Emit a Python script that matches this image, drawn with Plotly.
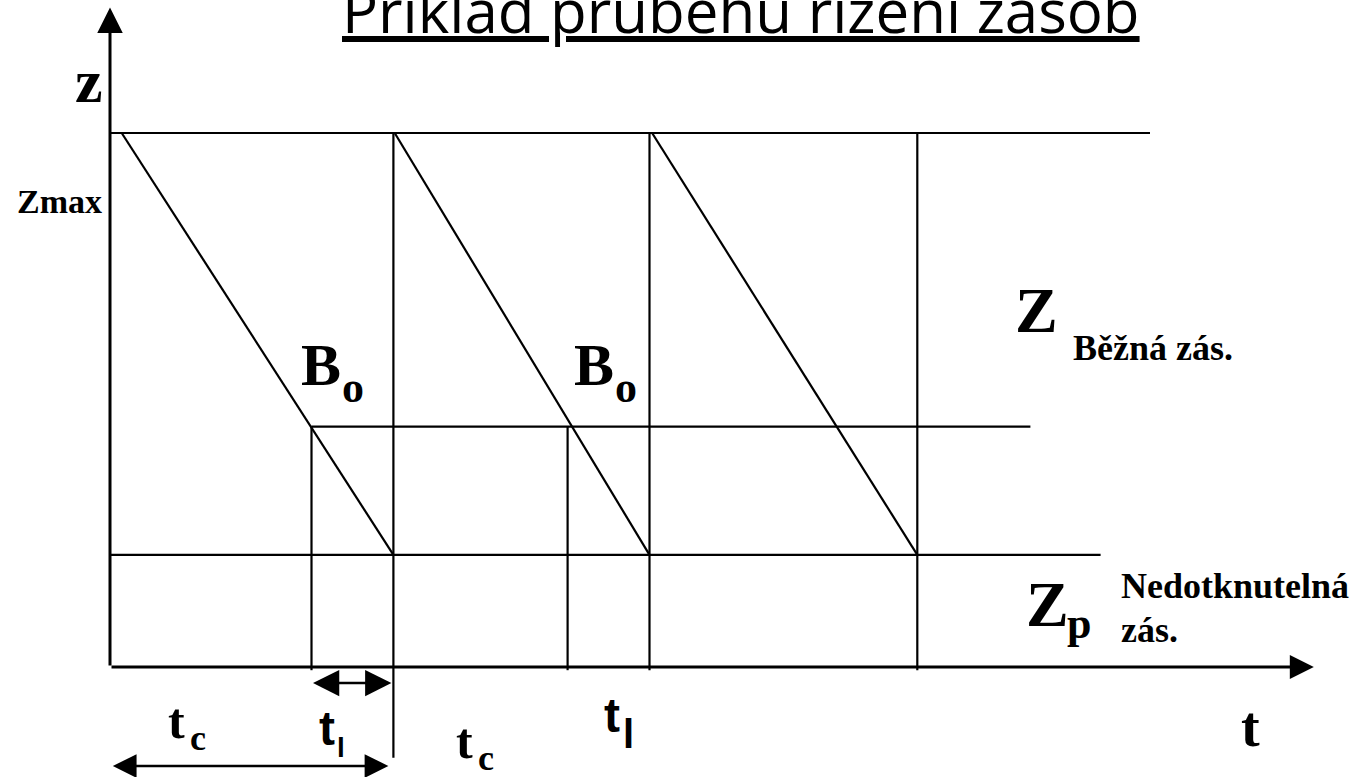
import plotly.graph_objects as go

# ---- stock levels (units of stock) ----
Z_MAX = 10.0        # maximum stock after a delivery
Z_REORDER = 4.5     # reorder point B_o
Z_SAFETY = 2.1      # safety stock Z_p

# ---- time points (days) ----
CYCLE_START = [0.45, 10.95, 20.85]   # stock replenished to Z_MAX
CYCLE_END = [10.9, 20.75, 31.05]     # stock drawn down to Z_SAFETY (delivery)
ORDER_TIME = [7.75, 17.6]            # order placed at the reorder point

# extent of the reference lines and axes
T_MAX_LINE_END = 40.0
T_REORDER_LINE_END = 35.4
T_SAFETY_LINE_END = 38.1
T_AXIS_END = 46.3
Z_AXIS_END = 12.35

W, H = 1362, 777
PX_PER_T = 26.0
PX_PER_Z = 53.4
X0_PX, Y0_PX = 110.0, 667.0

X_RANGE = [-X0_PX / PX_PER_T, (W - X0_PX) / PX_PER_T]
Y_RANGE = [(Y0_PX - H) / PX_PER_Z, Y0_PX / PX_PER_Z]

INK = "#000000"
SERIF = "Liberation Serif, Times New Roman, serif"
SANS = "Liberation Sans, Arial, sans-serif"
TITLE_FONT = "Open Sans, Segoe UI, sans-serif"

fig = go.Figure()


def seg(x, y, width=2.2):
    fig.add_trace(go.Scatter(x=x, y=y, mode="lines",
                             line=dict(color=INK, width=width),
                             hoverinfo="skip", showlegend=False))


# horizontal levels
seg([0, T_MAX_LINE_END], [Z_MAX, Z_MAX])
seg([ORDER_TIME[0], T_REORDER_LINE_END], [Z_REORDER, Z_REORDER])
seg([0, T_SAFETY_LINE_END], [Z_SAFETY, Z_SAFETY])

# consumption (stock drawdown) lines
for t0, t1 in zip(CYCLE_START, CYCLE_END):
    seg([t0, t1], [Z_MAX, Z_SAFETY])

# delivery verticals
for i, t in enumerate(CYCLE_END):
    bottom = -1.70 if i == 0 else -0.06
    seg([t, t], [Z_MAX, bottom])

# order verticals
for t in ORDER_TIME:
    seg([t, t], [Z_REORDER, -0.06])

annotations = []


def arrow(x0, y0, x1, y1, width, size, both=False, standoff=0, startstandoff=0):
    annotations.append(dict(
        x=x1, y=y1, ax=x0, ay=y0, xref="x", yref="y", axref="x", ayref="y",
        text="", showarrow=True, arrowhead=2, startarrowhead=2,
        arrowside="end+start" if both else "end",
        arrowwidth=width, arrowsize=size, startarrowsize=size,
        arrowcolor=INK, standoff=standoff, startstandoff=startstandoff))


# axes
arrow(0, 0, 0, Z_AXIS_END, 3, 1.7)
arrow(0, 0, T_AXIS_END, 0, 3, 1.6)

# lead time t_l and cycle time t_c
arrow(ORDER_TIME[0], -0.30, CYCLE_END[0], -0.30, 2.5, 2.1, both=True, standoff=2)
arrow(0.05, -1.854, CYCLE_END[0], -1.854, 2.5, 1.9, both=True, standoff=5)

K = {SERIF: 0.3375, SANS: 0.3465, TITLE_FONT: 0.388}


def label(text, x, baseline, size, family, anchor="left", bold=True):
    yc = baseline - K[family] * size
    annotations.append(dict(
        text=text, x=x / W, y=1 - yc / H, xref="paper", yref="paper",
        xanchor=anchor, yanchor="middle", showarrow=False, borderpad=0,
        font=dict(family=family, size=size, color=INK,
                  weight="bold" if bold else "normal")))


# title
label("<u>Příklad průběhu řízení zásob</u>", 341, 33, 60, TITLE_FONT, bold=False)

# axis labels
label("z", 89, 102, 62, SERIF, anchor="center")
label("Zmax", 103, 213, 34, SERIF, anchor="right")
label("t", 1240, 746, 56, SERIF)

# reorder point labels
for bx in (300, 573):
    label("B", bx, 385, 60, SERIF)
    label("o", bx + 41, 402, 44, SERIF)

# stock zone labels
label("Z", 1014, 332, 64, SERIF)
label("Běžná zás.", 1072, 360, 36, SERIF)
label("Z", 1025, 626, 64, SERIF)
label("p", 1066, 638, 44, SERIF)
label("Nedotknutelná", 1120, 598, 36, SERIF)
label("zás.", 1120, 642, 36, SERIF)

# time interval labels
label("t", 167, 738, 50, SERIF)
label("c", 189, 750, 36, SERIF)
label("t", 318, 745, 48, SANS)
label("l", 336, 757, 28, SANS)
label("t", 455, 758, 50, SERIF)
label("c", 477, 770, 36, SERIF)
label("t", 603, 732, 48, SANS)
label("l", 622, 748, 40, SANS)

fig.update_layout(
    width=W, height=H, autosize=False,
    margin=dict(l=0, r=0, t=0, b=0, pad=0),
    paper_bgcolor="white", plot_bgcolor="white",
    xaxis=dict(range=X_RANGE, visible=False, fixedrange=True),
    yaxis=dict(range=Y_RANGE, visible=False, fixedrange=True),
    annotations=annotations,
    showlegend=False,
)

fig.write_html("out.html", config={"displayModeBar": False})
